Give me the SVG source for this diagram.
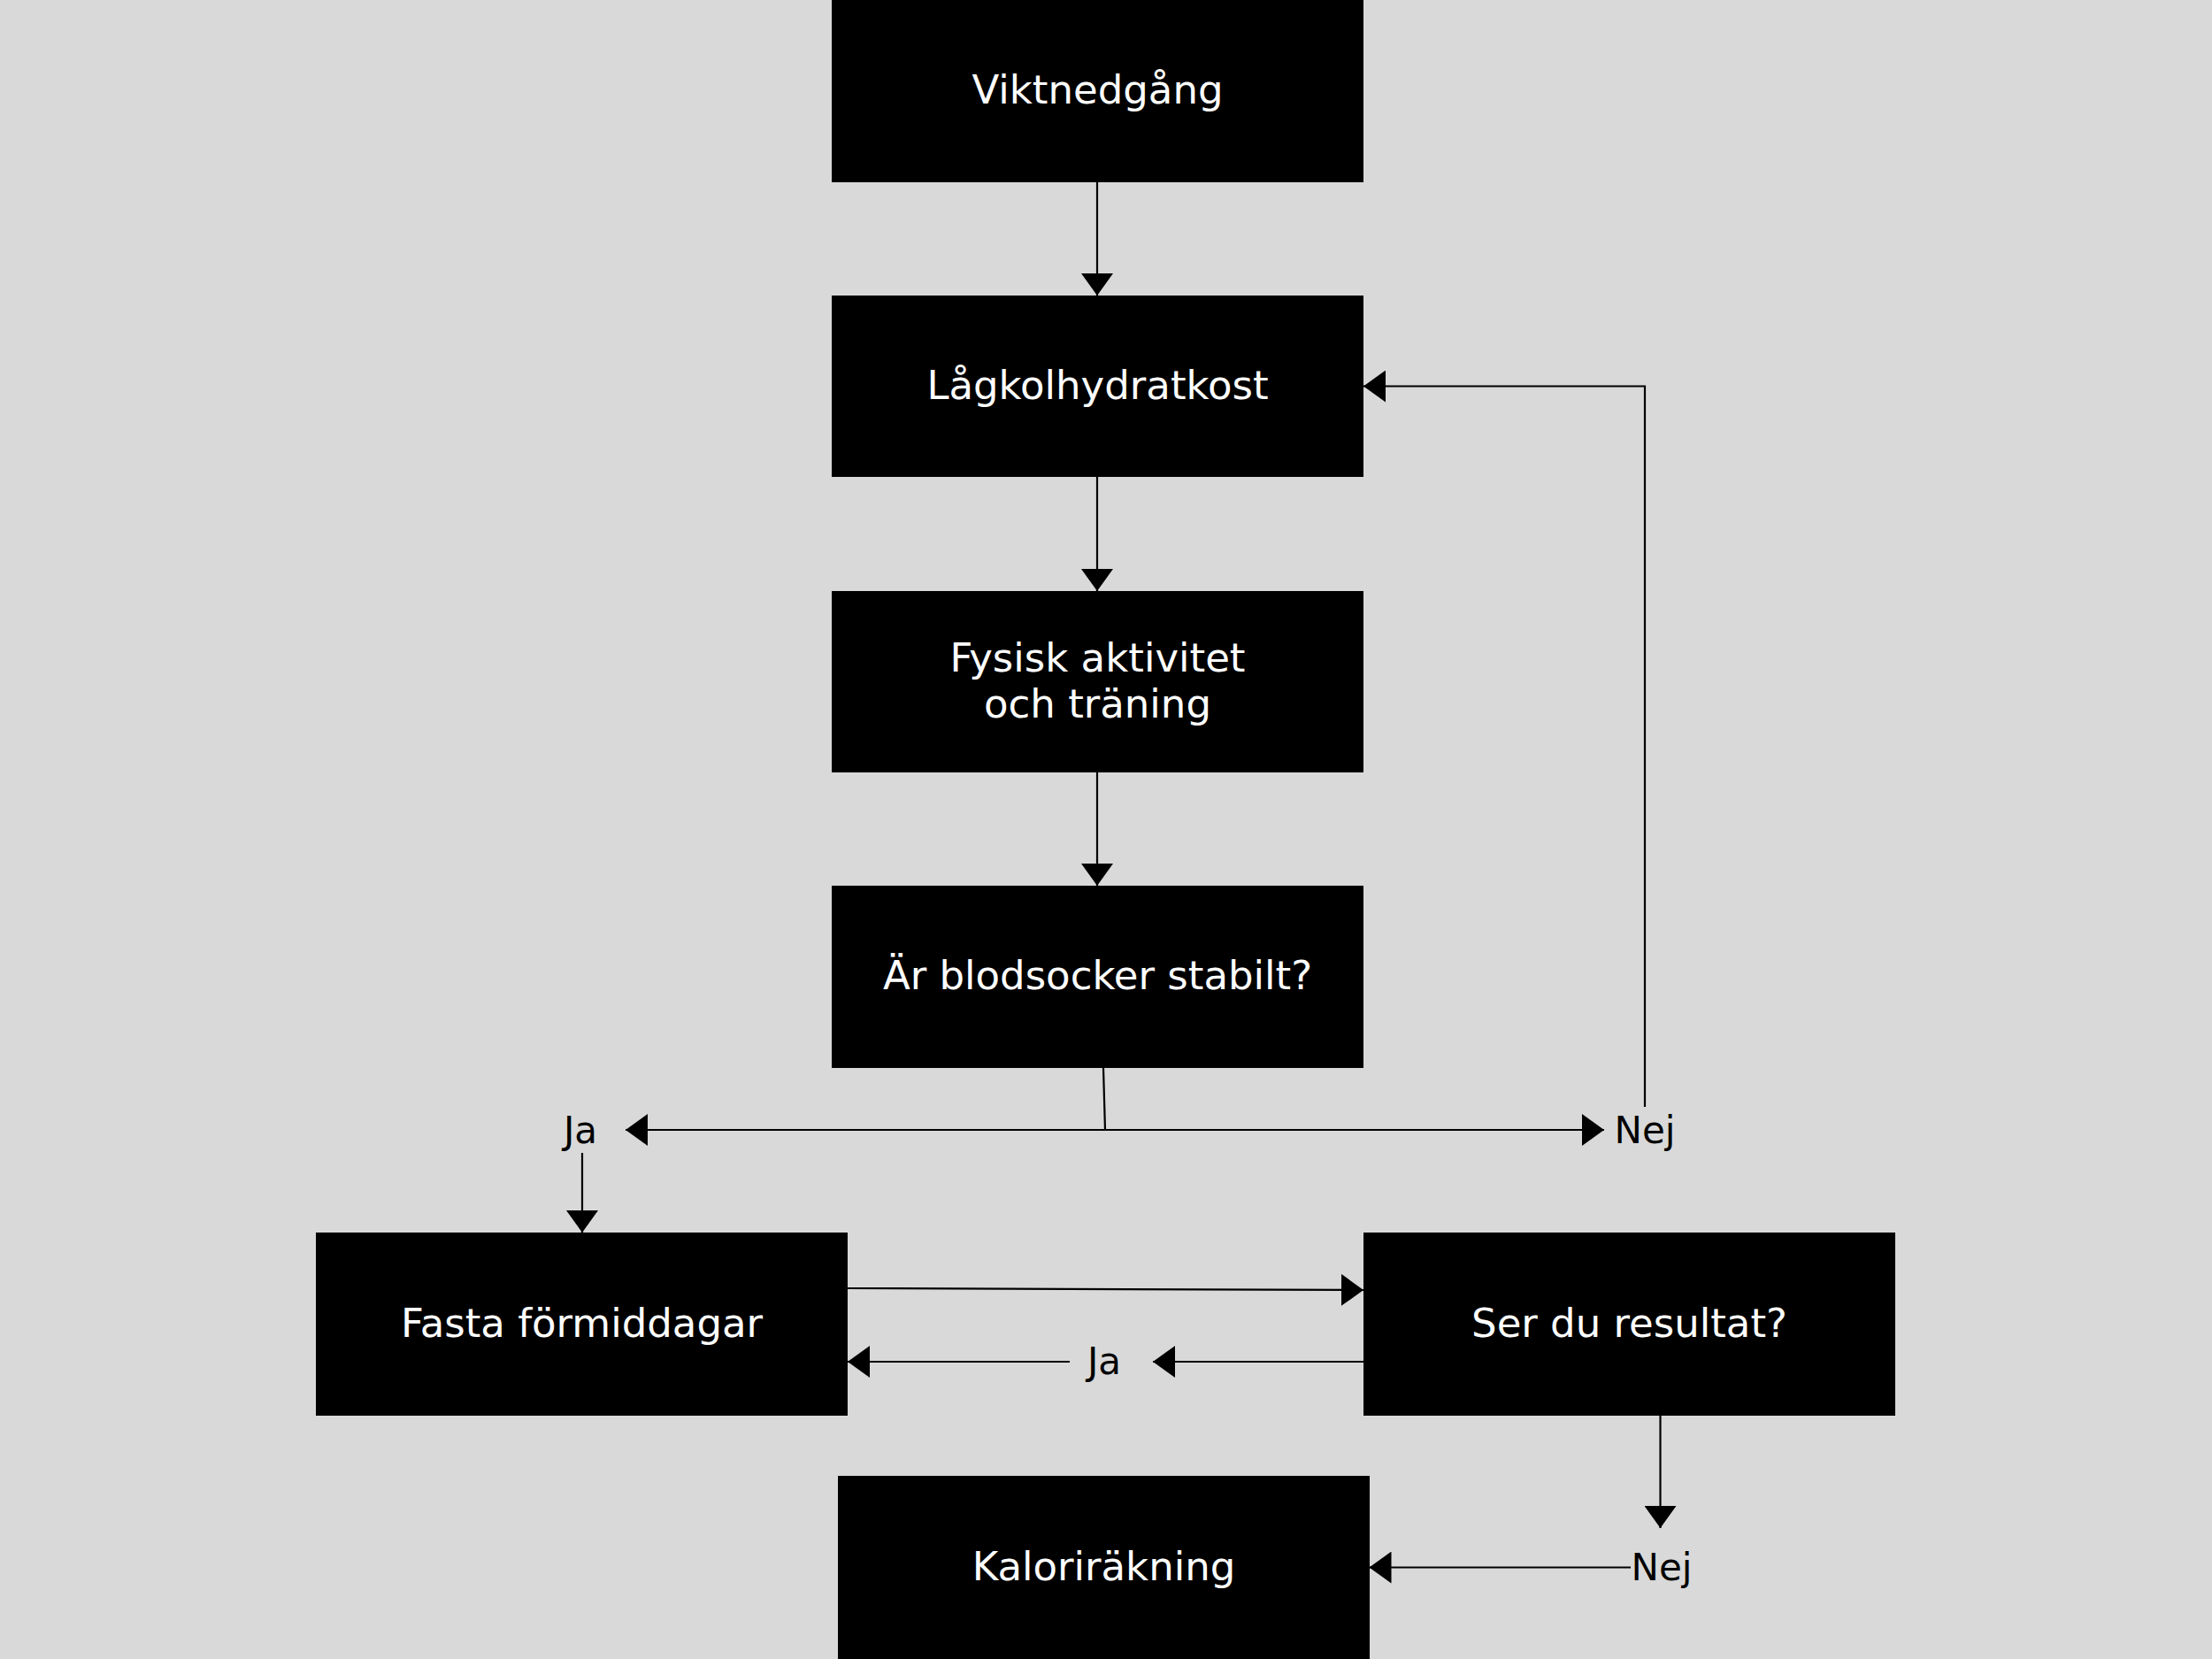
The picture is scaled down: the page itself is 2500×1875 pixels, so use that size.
<svg xmlns="http://www.w3.org/2000/svg" width="2500" height="1875" viewBox="0 0 2500 1875">
<defs>
<style>
.box{fill:#000000;}
.t{font-family:"DejaVu Sans","Liberation Sans",sans-serif;font-size:45px;fill:#ffffff;text-anchor:middle;}
.lbl{font-family:"DejaVu Sans","Liberation Sans",sans-serif;font-size:42px;fill:#000000;text-anchor:middle;}
.c{fill:none;stroke:#000000;stroke-width:2.2;}
</style>
<marker id="ah" markerUnits="userSpaceOnUse" markerWidth="26" markerHeight="36" refX="25" refY="18" orient="auto">
<path d="M0,0 L25,18 L0,36 z" fill="#000000"/>
</marker>
</defs>
<rect x="0" y="0" width="2500" height="1875" fill="#d9d9d9"/>
<g id="connectors">
<path class="c" d="M1240,206 V334" marker-end="url(#ah)"/>
<path class="c" d="M1240,539 V668" marker-end="url(#ah)"/>
<path class="c" d="M1240,873 V1001" marker-end="url(#ah)"/>
<path class="c" d="M1247,1207 L1249,1277"/>
<path class="c" d="M1249,1277 H707" marker-end="url(#ah)"/>
<path class="c" d="M1249,1277 H1813" marker-end="url(#ah)"/>
<path class="c" d="M1859,1251 V436.5 H1541" marker-end="url(#ah)"/>
<path class="c" d="M658,1303 V1393" marker-end="url(#ah)"/>
<path class="c" d="M958,1456 L1541,1458" marker-end="url(#ah)"/>
<path class="c" d="M1541,1539 H1303" marker-end="url(#ah)"/>
<path class="c" d="M1209,1539 H958" marker-end="url(#ah)"/>
<path class="c" d="M1876.5,1600 V1727" marker-end="url(#ah)"/>
<path class="c" d="M1843,1771.5 H1547.5" marker-end="url(#ah)"/>
<text class="lbl" x="656" y="1292">Ja</text>
<text class="lbl" x="1859" y="1292">Nej</text>
<text class="lbl" x="1248" y="1553">Ja</text>
<text class="lbl" x="1878" y="1786">Nej</text>
</g>
<g id="n1"><rect class="box" x="940" y="0" width="601" height="206"/><text class="t" x="1240.5" y="117">Viktnedgång</text></g>
<g id="n2"><rect class="box" x="940" y="334" width="601" height="205"/><text class="t" x="1240.5" y="451">Lågkolhydratkost</text></g>
<g id="n3"><rect class="box" x="940" y="668" width="601" height="205"/><text class="t" x="1240.5" y="759">Fysisk aktivitet</text><text class="t" x="1240.5" y="811">och träning</text></g>
<g id="n4"><rect class="box" x="940" y="1001" width="601" height="206"/><text class="t" x="1240.5" y="1118">Är blodsocker stabilt?</text></g>
<g id="n5"><rect class="box" x="357" y="1393" width="601" height="207"/><text class="t" x="657.5" y="1511">Fasta förmiddagar</text></g>
<g id="n6"><rect class="box" x="1541" y="1393" width="601" height="207"/><text class="t" x="1841.5" y="1511">Ser du resultat?</text></g>
<g id="n7"><rect class="box" x="947" y="1668" width="601" height="207"/><text class="t" x="1247.5" y="1786">Kaloriräkning</text></g>
</svg>
